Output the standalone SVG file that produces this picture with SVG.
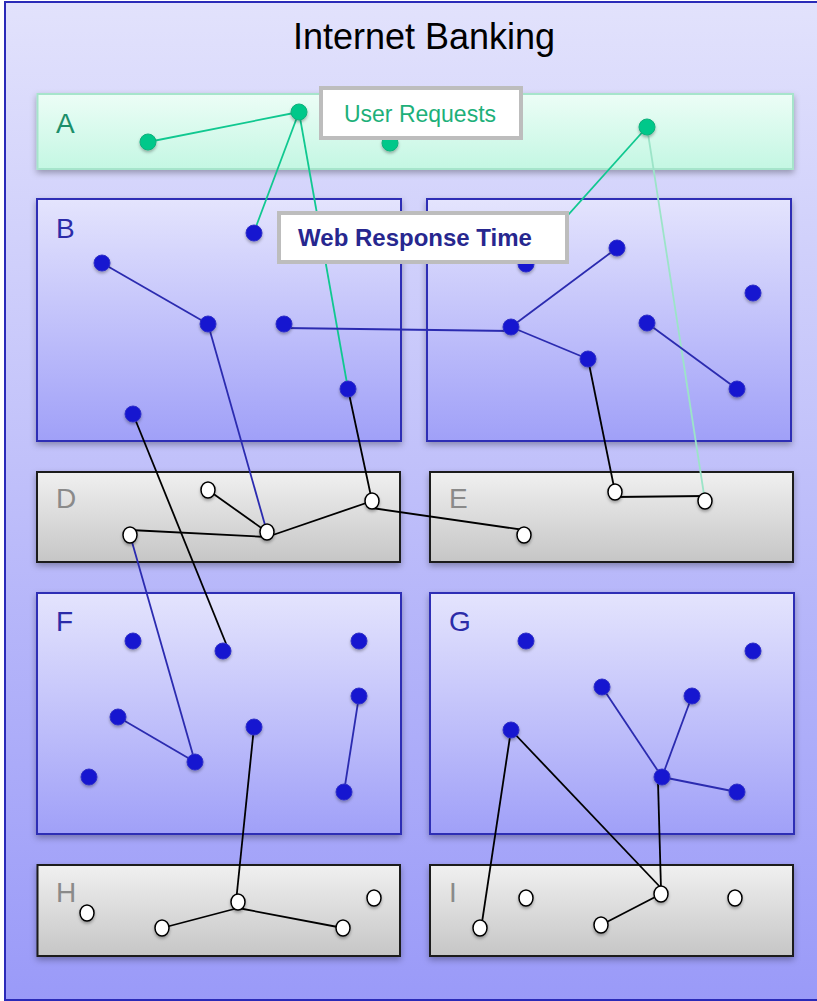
<svg xmlns="http://www.w3.org/2000/svg" width="817" height="1001" viewBox="0 0 817 1001">
<defs>
<linearGradient id="bg" x1="0" y1="0" x2="0" y2="1"><stop offset="0" stop-color="#e2e2fc"/><stop offset="1" stop-color="#9a9af8"/></linearGradient>
<linearGradient id="gA" x1="0" y1="0" x2="0" y2="1"><stop offset="0" stop-color="#ecfdf6"/><stop offset="1" stop-color="#c4f7e3"/></linearGradient>
<linearGradient id="gB" x1="0" y1="0" x2="0" y2="1"><stop offset="0" stop-color="#e4e4fd"/><stop offset="1" stop-color="#a0a0f8"/></linearGradient>
<linearGradient id="gD" x1="0" y1="0" x2="0" y2="1"><stop offset="0" stop-color="#f0f0f0"/><stop offset="1" stop-color="#c6c6c6"/></linearGradient>
<filter id="sh" x="-10%" y="-10%" width="120%" height="130%"><feDropShadow dx="0" dy="3" stdDeviation="3" flood-color="#000" flood-opacity="0.3"/></filter>
<filter id="nsh" x="-50%" y="-50%" width="200%" height="200%"><feDropShadow dx="0" dy="2" stdDeviation="1.5" flood-color="#000" flood-opacity="0.3"/></filter>
</defs>
<style>
.blue{fill:url(#gB);stroke:#2e2eb5;stroke-width:2}
.gray{fill:url(#gD);stroke:#1a1a1a;stroke-width:2}
.bl{font-family:"Liberation Sans",Arial,sans-serif;font-size:28px;fill:#2b2ba8}
.gl{font-family:"Liberation Sans",Arial,sans-serif;font-size:28px;fill:#8a8a8a}
.bn{fill:#1414d0;stroke:#3030c8;stroke-width:1;filter:url(#nsh)}
.wn{fill:#fff;stroke:#000;stroke-width:1.5;filter:url(#nsh)}
.gn{fill:#00c88a;stroke:#10b07c;stroke-width:1;filter:url(#nsh)}
.lb{stroke:#2b2bb0;stroke-width:1.8;fill:none}
.lk{stroke:#000;stroke-width:1.8;fill:none}
.lg{stroke:#10c890;stroke-width:1.8;fill:none}
.llg{stroke:#9ce4c8;stroke-width:1.8;fill:none}
</style>
<rect x="5" y="2" width="820" height="998" fill="url(#bg)" stroke="#2a2ab8" stroke-width="2"/>
<text x="424" y="49" text-anchor="middle" font-family="Liberation Sans,Arial,sans-serif" font-size="36" fill="#000">Internet Banking</text>

<g id="A"><rect x="37.5" y="94" width="755.5" height="75" fill="url(#gA)" stroke="#a6e4cb" stroke-width="2" filter="url(#sh)"/><text x="56" y="133" class="bl" style="fill:#1c8f6a">A</text></g>
<g id="B"><rect x="37" y="199" width="364" height="242" class="blue" filter="url(#sh)"/><text x="56" y="238" class="bl">B</text></g>
<g id="C"><rect x="427" y="199" width="364" height="242" class="blue" filter="url(#sh)"/></g>
<g id="D"><rect x="37" y="472" width="363" height="90" class="gray" filter="url(#sh)"/><text x="56" y="508" class="gl">D</text></g>
<g id="E"><rect x="430" y="472" width="363" height="90" class="gray" filter="url(#sh)"/><text x="449" y="508" class="gl">E</text></g>
<g id="F"><rect x="37" y="593" width="364" height="241" class="blue" filter="url(#sh)"/><text x="56" y="631" class="bl">F</text></g>
<g id="G"><rect x="430" y="593" width="364" height="241" class="blue" filter="url(#sh)"/><text x="449" y="631" class="bl">G</text></g>
<g id="H"><rect x="37.5" y="865" width="362.5" height="91" class="gray" filter="url(#sh)"/><text x="56" y="902" class="gl">H</text></g>
<g id="I"><rect x="430" y="865" width="363" height="91" class="gray" filter="url(#sh)"/><text x="449" y="902" class="gl">I</text></g>

<g id="connectors">
<line class="lg" x1="148" y1="142" x2="299" y2="112"/>
<line class="lg" x1="299" y1="112" x2="254" y2="232"/>
<line class="lg" x1="299" y1="112" x2="348" y2="389"/>
<line class="lg" x1="647" y1="127" x2="525" y2="263"/>
<line class="llg" x1="647" y1="127" x2="705" y2="501"/>
<line class="lb" x1="102" y1="263" x2="208" y2="324"/>
<line class="lb" x1="208" y1="324" x2="267" y2="532"/>
<line class="lb" x1="284" y1="328" x2="511" y2="331"/>
<line class="lb" x1="511" y1="327" x2="617" y2="248"/>
<line class="lb" x1="511" y1="327" x2="588" y2="359"/>
<line class="lb" x1="647" y1="323" x2="737" y2="389"/>
<line class="lk" x1="348" y1="389" x2="372" y2="501"/>
<line class="lk" x1="133" y1="414" x2="229" y2="651"/>
<line class="lk" x1="588" y1="359" x2="615" y2="492"/>
<line class="lk" x1="208" y1="490" x2="267" y2="532"/>
<line class="lk" x1="130" y1="530" x2="267" y2="537"/>
<line class="lk" x1="267" y1="537" x2="372" y2="501"/>
<line class="lk" x1="372" y1="508" x2="524" y2="530"/>
<line class="lk" x1="615" y1="497" x2="705" y2="496"/>
<line class="lb" x1="130" y1="535" x2="195" y2="762"/>
<line class="lb" x1="118" y1="717" x2="195" y2="762"/>
<line class="lb" x1="359" y1="696" x2="344" y2="792"/>
<line class="lk" x1="254" y1="727" x2="236" y2="902"/>
<line class="lb" x1="602" y1="687" x2="662" y2="777"/>
<line class="lb" x1="692" y1="696" x2="662" y2="777"/>
<line class="lb" x1="662" y1="777" x2="737" y2="792"/>
<line class="lk" x1="511" y1="730" x2="481" y2="929"/>
<line class="lk" x1="511" y1="730" x2="662" y2="889"/>
<line class="lk" x1="658" y1="782" x2="661" y2="889"/>
<line class="lk" x1="162" y1="928" x2="238" y2="908"/>
<line class="lk" x1="238" y1="908" x2="343" y2="928"/>
<line class="lk" x1="601" y1="925" x2="661" y2="894"/>
</g>

<g id="nodes-green">
<circle class="gn" cx="148" cy="142" r="8"/>
<circle class="gn" cx="299" cy="112" r="8"/>
<circle class="gn" cx="390" cy="143" r="8"/>
<circle class="gn" cx="647" cy="127" r="8"/>
</g>
<g id="nodes-blue">
<circle class="bn" cx="254" cy="233" r="8"/>
<circle class="bn" cx="102" cy="263" r="8"/>
<circle class="bn" cx="208" cy="324" r="8"/>
<circle class="bn" cx="284" cy="324" r="8"/>
<circle class="bn" cx="348" cy="389" r="8"/>
<circle class="bn" cx="133" cy="414" r="8"/>
<circle class="bn" cx="526" cy="264" r="8"/>
<circle class="bn" cx="617" cy="248" r="8"/>
<circle class="bn" cx="753" cy="293" r="8"/>
<circle class="bn" cx="511" cy="327" r="8"/>
<circle class="bn" cx="647" cy="323" r="8"/>
<circle class="bn" cx="588" cy="359" r="8"/>
<circle class="bn" cx="737" cy="389" r="8"/>
<circle class="bn" cx="133" cy="641" r="8"/>
<circle class="bn" cx="223" cy="651" r="8"/>
<circle class="bn" cx="359" cy="641" r="8"/>
<circle class="bn" cx="359" cy="696" r="8"/>
<circle class="bn" cx="118" cy="717" r="8"/>
<circle class="bn" cx="254" cy="727" r="8"/>
<circle class="bn" cx="195" cy="762" r="8"/>
<circle class="bn" cx="89" cy="777" r="8"/>
<circle class="bn" cx="344" cy="792" r="8"/>
<circle class="bn" cx="526" cy="641" r="8"/>
<circle class="bn" cx="753" cy="651" r="8"/>
<circle class="bn" cx="602" cy="687" r="8"/>
<circle class="bn" cx="692" cy="696" r="8"/>
<circle class="bn" cx="511" cy="730" r="8"/>
<circle class="bn" cx="662" cy="777" r="8"/>
<circle class="bn" cx="737" cy="792" r="8"/>
</g>
<g id="nodes-white">
<ellipse class="wn" cx="208" cy="490" rx="7" ry="8"/>
<ellipse class="wn" cx="130" cy="535" rx="7" ry="8"/>
<ellipse class="wn" cx="267" cy="532" rx="7" ry="8"/>
<ellipse class="wn" cx="372" cy="501" rx="7" ry="8"/>
<ellipse class="wn" cx="615" cy="492" rx="7" ry="8"/>
<ellipse class="wn" cx="705" cy="501" rx="7" ry="8"/>
<ellipse class="wn" cx="524" cy="535" rx="7" ry="8"/>
<ellipse class="wn" cx="87" cy="913" rx="7" ry="8"/>
<ellipse class="wn" cx="162" cy="928" rx="7" ry="8"/>
<ellipse class="wn" cx="238" cy="902" rx="7" ry="8"/>
<ellipse class="wn" cx="343" cy="928" rx="7" ry="8"/>
<ellipse class="wn" cx="374" cy="898" rx="7" ry="8"/>
<ellipse class="wn" cx="480" cy="928" rx="7" ry="8"/>
<ellipse class="wn" cx="526" cy="898" rx="7" ry="8"/>
<ellipse class="wn" cx="601" cy="925" rx="7" ry="8"/>
<ellipse class="wn" cx="661" cy="894" rx="7" ry="8"/>
<ellipse class="wn" cx="735" cy="898" rx="7" ry="8"/>
</g>

<g id="user-requests"><rect x="321" y="88" width="200" height="50" fill="#fff" stroke="#bdbdbd" stroke-width="4"/><text x="420" y="122" text-anchor="middle" font-family="Liberation Sans,Arial,sans-serif" font-size="23" fill="#1db07a">User Requests</text></g>
<g id="web-response-time"><rect x="279" y="213" width="288" height="49" fill="#fff" stroke="#bdbdbd" stroke-width="4"/><text x="415" y="246" text-anchor="middle" font-family="Liberation Sans,Arial,sans-serif" font-size="24" font-weight="bold" fill="#27278f">Web Response Time</text></g>
</svg>
